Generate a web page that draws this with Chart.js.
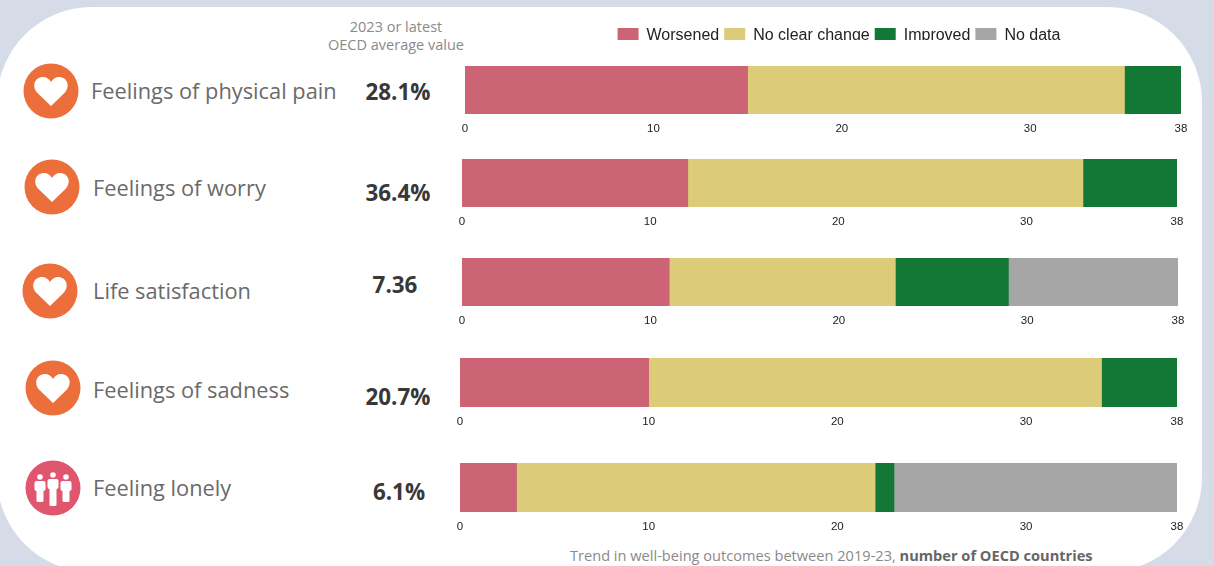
<!DOCTYPE html>
<html>
<head>
<meta charset="utf-8">
<title>Trend in well-being outcomes</title>
<script src="https://cdn.jsdelivr.net/npm/chart.js@4"></script>
<style>
  html, body { margin: 0; padding: 0; width: 1214px; height: 566px; overflow: hidden; background: #d5dce7; }
  #card { position: absolute; left: -3px; top: 7px; width: 1205px; height: 565px; background: #fff; border-radius: 95px; }
  #page { position: absolute; left: 0; top: 0; width: 1214px; height: 566px; font-family: "Open Sans", sans-serif; }
  #page canvas { position: absolute; }
  .lbl, .val, .hdr, .foot { position: absolute; white-space: nowrap; }
  .lbl { font-size: 21.8px; color: #6a6a6a; transform: translateY(-50%); }
  .val { font-size: 22.4px; font-weight: 700; color: #383838; transform: translate(-50%, -50%); }
  .hdr { left: 396px; font-size: 14.5px; color: #8a8a8a; transform: translateX(-50%); }
  .foot { left: 570px; top: 545px; font-size: 14.6px; color: #8a8a8a; }
  .foot b { color: #666; }
  svg { position: absolute; }
</style>
</head>
<body>
<div id="card"></div>
<div id="page">
  <div class="hdr" style="top:17px">2023 or latest</div>
  <div class="hdr" style="top:35px">OECD average value</div>
  <div class="foot">Trend in well-being outcomes between 2019-23, <b>number of OECD countries</b></div>
</div>
<script>
const categories = ["Feelings of physical pain", "Feelings of worry", "Life satisfaction", "Feelings of sadness", "Feeling lonely"];
const averages = ["28.1%", "36.4%", "7.36", "20.7%", "6.1%"];
const worsened = [15, 12, 11, 10, 3];
const noClearChange = [20, 21, 12, 24, 19];
const improved = [3, 5, 6, 4, 1];
const noData = [0, 0, 9, 0, 15];
const tickValues = [0, 10, 20, 30, 38];
const seriesNames = ["Worsened", "No clear change", "Improved", "No data"];
const seriesColors = ["#cc6475", "#dccb78", "#137835", "#a6a6a6"];

// where each row sits on the page
const rows = [
  { left: 465, right: 1181, top: 66, h: 48, iconX: 51, iconY: 91, textX: 91, textY: 90, valX: 398, valY: 91, icon: "heart" },
  { left: 462, right: 1177, top: 159, h: 48, iconX: 52, iconY: 187, textX: 93, textY: 187, valX: 398, valY: 192, icon: "heart" },
  { left: 462, right: 1178, top: 258, h: 48, iconX: 50, iconY: 291, textX: 93, textY: 290, valX: 395, valY: 284, icon: "heart" },
  { left: 460, right: 1177, top: 358, h: 49, iconX: 53, iconY: 388, textX: 93, textY: 389, valX: 398, valY: 396, icon: "heart" },
  { left: 460, right: 1177, top: 463, h: 49, iconX: 53, iconY: 488, textX: 93, textY: 487, valX: 399, valY: 491, icon: "people" }
];

const page = document.getElementById("page");
const seriesData = [worsened, noClearChange, improved, noData];

function makeDatasets(i) {
  return seriesNames.map((name, s) => ({
    label: name,
    data: [seriesData[s][i]],
    backgroundColor: seriesColors[s],
    borderWidth: 0,
    barPercentage: 1,
    categoryPercentage: 1
  }));
}

function addIcon(row) {
  const svg = document.createElementNS("http://www.w3.org/2000/svg", "svg");
  svg.setAttribute("width", 56);
  svg.setAttribute("height", 56);
  svg.setAttribute("viewBox", "0 0 56 56");
  svg.style.left = (row.iconX - 28) + "px";
  svg.style.top = (row.iconY - 28) + "px";
  if (row.icon === "heart") {
    svg.innerHTML = '<circle cx="28" cy="28" r="27.5" fill="#ec6e3b"/>' +
      '<path d="M28 43 L14.5 30 C8 23 12 14 20 14 C23.5 14 26.5 16 28 19 C29.5 16 32.5 14 36 14 C44 14 48 23 41.5 30 Z" fill="#fff"/>';
  } else {
    let people = "";
    [[15, 17, 19, 34], [28, 15, 17, 38], [41, 17, 19, 34]].forEach(p => {
      const x = p[0];
      people += '<circle cx="' + x + '" cy="' + p[1] + '" r="2.8" fill="#fff"/>' +
        '<rect x="' + (x - 5.5) + '" y="' + (p[2] + 2) + '" width="11" height="10" rx="2" fill="#fff"/>' +
        '<rect x="' + (x - 3.5) + '" y="' + (p[2] + 2) + '" width="7" height="' + (p[3] - p[2] + 6) + '" rx="1.5" fill="#fff"/>';
    });
    svg.innerHTML = '<circle cx="28" cy="28" r="27.5" fill="#e0566f"/>' + people;
  }
  page.appendChild(svg);
}

function addText(cls, text, x, y) {
  const el = document.createElement("div");
  el.className = cls;
  el.textContent = text;
  el.style.left = x + "px";
  el.style.top = y + "px";
  page.appendChild(el);
}

rows.forEach((row, i) => {
  addIcon(row);
  addText("lbl", categories[i], row.textX, row.textY);
  addText("val", averages[i], row.valX, row.valY);

  const canvas = document.createElement("canvas");
  const w = row.right - row.left + 40;
  const axisH = 26;
  canvas.width = w;
  canvas.height = row.h + axisH;
  canvas.style.left = (row.left - 20) + "px";
  canvas.style.top = row.top + "px";
  page.appendChild(canvas);

  new Chart(canvas.getContext("2d"), {
    type: "bar",
    data: { labels: [categories[i]], datasets: makeDatasets(i) },
    options: {
      indexAxis: "y",
      responsive: false,
      animation: false,
      layout: { padding: { left: 20, right: 20, top: 0, bottom: 0 } },
      plugins: { legend: { display: false }, tooltip: { enabled: false } },
      scales: {
        x: {
          stacked: true,
          min: 0,
          max: 38,
          grid: { display: false },
          border: { display: false },
          afterBuildTicks: scale => { scale.ticks = tickValues.map(v => ({ value: v })); },
          afterFit: scale => { scale.height = axisH; },
          ticks: {
            autoSkip: false,
            maxRotation: 0,
            padding: 0,
            color: "#222",
            font: { family: "Liberation Sans", size: 11.5 }
          }
        },
        y: { stacked: true, display: false }
      }
    }
  });
});

// legend gets its own small chart so it can sit off-centre from the bars
const legendCanvas = document.createElement("canvas");
legendCanvas.width = 470;
legendCanvas.height = 34;
legendCanvas.style.left = "604px";
legendCanvas.style.top = "23px";
page.appendChild(legendCanvas);
new Chart(legendCanvas.getContext("2d"), {
  type: "bar",
  data: { labels: [""], datasets: makeDatasets(0).map(d => ({ ...d, data: [] })) },
  options: {
    responsive: false,
    animation: false,
    layout: { padding: 0 },
    scales: { x: { display: false }, y: { display: false } },
    plugins: {
      tooltip: { enabled: false },
      legend: {
        position: "top",
        labels: {
          boxWidth: 21,
          boxHeight: 16,
          padding: 5,
          color: "#222",
          font: { family: "Liberation Sans", size: 16 }
        }
      }
    }
  }
});
</script>
</body>
</html>
